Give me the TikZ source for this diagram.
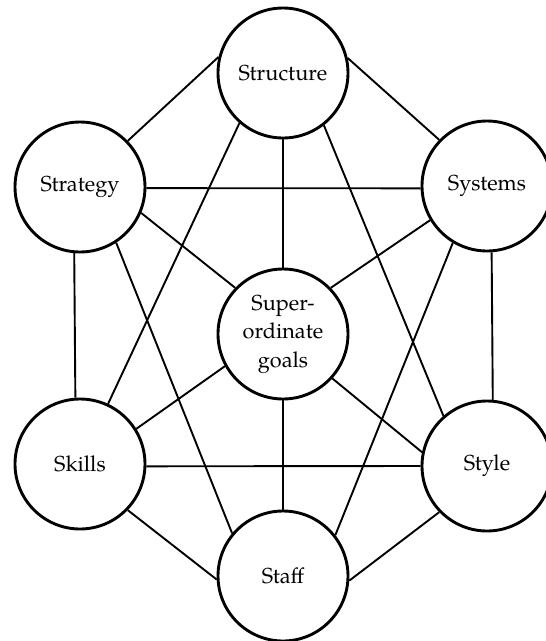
\documentclass[tikz,border=0pt]{standalone}
\usepackage{fontspec}
\setmainfont{TeX Gyre Pagella}
\begin{document}
\begin{tikzpicture}[x=1pt,y=-1pt,
  circ/.style={circle,draw,line width=2.9pt,minimum size=130pt,inner sep=0pt,align=center,
    font=\fontsize{21.7}{28.5}\selectfont},
  conn/.style={line width=1.9pt}]
\useasboundingbox (0,0) rectangle (546,641);
\node[circ] (structure) at (283,73) {Structure};
\node[circ] (strategy) at (80,187) {Strategy};
\node[circ] (systems) at (487,186) {Systems};
\node[circ] (super) at (283,334) {Super-\\ordinate\\goals};
\node[circ] (skills) at (80,464) {Skills};
\node[circ] (style) at (487,466) {Style};
\node[circ] (staff) at (283,576) {Staff};

\draw[conn] (structure.166.5) -- (strategy.44);
\draw[conn] (structure.13.5) -- (systems.136.2);
\draw[conn] (structure.south) -- (super.north);
\draw[conn] (structure.229.5) -- (skills.65.6);
\draw[conn] (structure.308.9) -- (style.131.2);
\draw[conn] (strategy.-1.1) -- (systems.182);
\draw[conn] (strategy.337.2) -- (super.136.7);
\draw[conn] (strategy.265.3) -- (skills.94.7);
\draw[conn] (strategy.303.8) -- (staff.140.7);
\draw[conn] (systems.211.1) -- (super.44.9);
\draw[conn] (systems.274.7) -- (style.85.3);
\draw[conn] (systems.239.8) -- (staff.38.3);
\draw[conn] (super.209.6) -- (skills.32.2);
\draw[conn] (super.318.6) -- (style.168.8);
\draw[conn] (super.south) -- (staff.north);
\draw[conn] (skills.-2.4) -- (style.180.6);
\draw[conn] (skills.316) -- (staff.183.4);
\draw[conn] (style.224) -- (staff.356.6);
\end{tikzpicture}
\end{document}
